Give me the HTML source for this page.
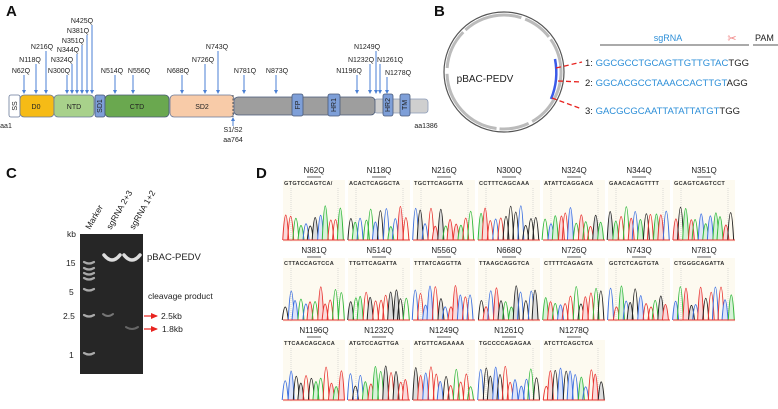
<!DOCTYPE html>
<html><head><meta charset="utf-8"><style>
body{margin:0;background:#fff;width:778px;height:404px;overflow:hidden;font-family:"Liberation Sans",Arial,sans-serif}
</style></head><body>
<svg id="s" width="778" height="404" viewBox="0 0 778 404" xmlns="http://www.w3.org/2000/svg" font-family="Liberation Sans, Arial, sans-serif">
<defs>
<marker id="ar" markerWidth="7" markerHeight="6" refX="6" refY="3" orient="auto" markerUnits="userSpaceOnUse"><path d="M0,0 L7,3 L0,6 z" fill="#e8231f"/></marker></defs>
<g font-weight="bold" font-size="15" fill="#111"><text x="6" y="16">A</text><text x="434" y="16">B</text><text x="6" y="178">C</text><text x="256" y="178">D</text></g>
<rect x="374" y="99" width="54" height="14" rx="3" fill="#cfcfcf" stroke="#8a9ab8" stroke-width="0.8"/>
<rect x="234" y="97" width="141" height="18" rx="4" fill="#9e9e9e" stroke="#4a5a78" stroke-width="0.8"/>
<rect x="9" y="95" width="11" height="22" rx="2" fill="#fff" stroke="#6a7a9a" stroke-width="0.8"/>
<rect x="20" y="95" width="34" height="22" rx="4" fill="#f6bb16" stroke="#6a7a9a" stroke-width="0.8"/>
<rect x="54" y="95" width="40" height="22" rx="4" fill="#a8d18b" stroke="#6a7a9a" stroke-width="0.8"/>
<rect x="95" y="95" width="10" height="22" rx="2" fill="#7e9fd8" stroke="#4a5a78" stroke-width="0.8"/>
<rect x="105" y="95" width="64" height="22" rx="4" fill="#6aa84f" stroke="#4a5a78" stroke-width="0.8"/>
<rect x="170" y="95" width="64" height="22" rx="4" fill="#f8cba8" stroke="#6a7a9a" stroke-width="0.8"/>
<line x1="233" y1="95" x2="233" y2="117" stroke="#555" stroke-dasharray="2,1.5"/>
<g fill="#7e9fd8" stroke="#4a5a78" stroke-width="0.8"><rect x="292" y="94" width="11" height="22" rx="2"/><rect x="328" y="94" width="12" height="22" rx="2"/><rect x="383" y="94" width="10" height="22" rx="2"/><rect x="400" y="94" width="10" height="22" rx="2"/></g>
<g font-size="7" fill="#222" text-anchor="middle">
<text x="36" y="109">D0</text><text x="74" y="109">NTD</text><text x="137" y="109">CTD</text><text x="202" y="109">SD2</text>
<text transform="translate(17,106) rotate(-90)">SS</text>
<text transform="translate(102,106) rotate(-90)">SD1</text>
<text transform="translate(300,105) rotate(-90)">FP</text>
<text transform="translate(336,105) rotate(-90)">HR1</text>
<text transform="translate(390,105) rotate(-90)">HR2</text>
<text transform="translate(407,105) rotate(-90)">TM</text>
<text x="6" y="128">aa1</text><text x="426" y="128">aa1386</text>
<text x="233" y="132">S1/S2</text><text x="233" y="142">aa764</text>
</g>
<line x1="233" y1="126" x2="233" y2="118" stroke="#4a7fd4" stroke-width="1"/><path d="M231,121 L233,117 L235,121z" fill="#4a7fd4"/>
<g id="arrs" font-size="7" fill="#222" text-anchor="middle"></g>
<circle cx="504" cy="72" r="60" fill="none" stroke="#555" stroke-width="1.2"/>
<circle cx="504" cy="72" r="57" fill="none" stroke="#bbb" stroke-width="3" stroke-dasharray="60,4,30,3,80,6,40,3"/>
<path d="M555,59 Q559,80 551,99" fill="none" stroke="#3a5ae8" stroke-width="2.5"/>
<text x="485" y="82" font-size="10" text-anchor="middle" fill="#222">pBAC-PEDV</text>
<g stroke="#e8231f" stroke-width="1.3" stroke-dasharray="5,3" fill="none"><line x1="556" y1="68" x2="582" y2="62"/><line x1="558" y1="81" x2="582" y2="82"/><line x1="552" y1="98" x2="582" y2="109"/></g>
<line x1="600" y1="45" x2="749" y2="45" stroke="#555" stroke-width="1"/><line x1="753" y1="45" x2="778" y2="45" stroke="#555" stroke-width="1"/>
<text x="668" y="41" font-size="9" fill="#2d8fd8" text-anchor="middle">sgRNA</text><text x="755" y="41" font-size="9" fill="#222">PAM</text>
<text x="732" y="42" font-size="11" fill="#f08080" text-anchor="middle">✂</text>
<g font-size="9.5" fill="#2d8fd8"><text x="585" y="66"><tspan fill="#222">1: </tspan>GGCGCCTGCAGTTGTTGTAC<tspan fill="#222">TGG</tspan></text>
<text x="585" y="86"><tspan fill="#222">2: </tspan>GGCACGCCTAAACCACTTGT<tspan fill="#222">AGG</tspan></text>
<text x="585" y="114"><tspan fill="#222">3: </tspan> GACGCGCAATTATATTATGT<tspan fill="#222">TGG</tspan></text></g>
<rect x="80" y="234" width="63" height="140" fill="#262626"/>
<g fill="none" stroke-linecap="round">
<path d="M104,255 Q112,265 120,255" stroke="#ddd" stroke-width="3.5"/><path d="M124,255 Q132,265 140,255" stroke="#ddd" stroke-width="3.5"/>
<g stroke="#aaa" stroke-width="2.2"><path d="M84,262 Q89,265 94,262"/><path d="M84,268 Q89,271 94,268"/><path d="M84,273 Q89,276 94,273"/><path d="M84,278 Q89,281 94,278"/><path d="M84,289 Q89,292 94,289"/><path d="M84,315 Q89,318 94,315"/><path d="M84,353 Q89,356 94,353"/></g>
<path d="M103,314 Q108,318 113,314" stroke="#777" stroke-width="2"/><path d="M126,327 Q132,331 138,327" stroke="#666" stroke-width="2"/>
</g>
<g font-size="8.5" fill="#222"><text x="67" y="237">kb</text><text x="66" y="266">15</text><text x="69" y="295">5</text><text x="63" y="319">2.5</text><text x="69" y="358">1</text>
<text x="147" y="260" font-size="9.5">pBAC-PEDV</text><text x="148" y="299">cleavage product</text><text x="161" y="319">2.5kb</text><text x="162" y="332">1.8kb</text>
<text transform="translate(90,230) rotate(-60)">Marker</text><text transform="translate(111,230) rotate(-60)">sgRNA 2+3</text><text transform="translate(134,230) rotate(-60)">sgRNA 1+2</text></g>
<line x1="144" y1="316" x2="157" y2="316" stroke="#e8231f" stroke-width="1.2" marker-end="url(#ar)"/>
<line x1="144" y1="329" x2="157" y2="329" stroke="#e8231f" stroke-width="1.2" marker-end="url(#ar)"/>
<g id="chrom"></g>
</svg>
<script>
var NS="http://www.w3.org/2000/svg";
function el(p,t,a,txt){var e=document.createElementNS(NS,t);for(var k in a)e.setAttribute(k,a[k]);if(txt)e.textContent=txt;p.appendChild(e);return e;}
var A=[["N62Q",21,73,24],["N118Q",30,62,36],["N216Q",42,49,46],["N300Q",59,73,67],["N324Q",62,62,72],["N344Q",68,52,77],["N351Q",73,43,82],["N381Q",78,33,87],["N425Q",82,23,92],["N514Q",112,73,115],["N556Q",139,73,133],["N688Q",178,73,182],["N726Q",203,62,205],["N743Q",217,49,218],["N781Q",245,73,244],["N873Q",277,73,276],["N1196Q",349,73,357],["N1232Q",361,62,370],["N1249Q",367,49,376],["N1261Q",390,62,380],["N1278Q",398,75,387]];
var g=document.getElementById('arrs');
A.forEach(function(a){el(g,'text',{x:a[1],y:a[2]},a[0]);el(g,'line',{x1:a[3],y1:a[2]+2,x2:a[3],y2:93,stroke:'#4a7fd4','stroke-width':1});el(g,'path',{d:'M'+(a[3]-2)+',90 L'+a[3]+',94 L'+(a[3]+2)+',90z',fill:'#4a7fd4'});});
var D=[["N62Q","GTGTCCAGTCA/"],["N118Q","ACACTCAGGCTA"],["N216Q","TGCTTCAGGTTA"],["N300Q","CCTTTCAGCAAA"],["N324Q","ATATTCAGGACA"],["N344Q","GAACACAGTTTT"],["N351Q","GCAGTCAGTCCT"],
["N381Q","CTTACCAGTCCA"],["N514Q","TTGTTCAGATTA"],["N556Q","TTTATCAGGTTA"],["N668Q","TTAAGCAGGTCA"],["N726Q","CTTTTCAGAGTA"],["N743Q","GCTCTCAGTGTA"],["N781Q","CTGGGCAGATTA"],
["N1196Q","TTCAACAGCACA"],["N1232Q","ATGTCCAGTTGA"],["N1249Q","ATGTTCAGAAAA"],["N1261Q","TGCCCCAGAGAA"],["N1278Q","ATCTTCAGCTCA"]];
var cg=document.getElementById('chrom'),cols=['#e8332f','#2fb83a','#3a6ee0','#222'],fills=['#fadada','#d8f2d8','#dde4fa','#ddd'];
var seed=7;function r(){seed=(seed*9301+49297)%233280;return seed/233280;}
var rows=[[173,180,242],[253,258,322],[333,340,402]];
D.forEach(function(d,i){var row=Math.floor(i/7),c=i%7,x=283+c*65,R=rows[row];
el(cg,'rect',{x:x,y:R[1],width:62,height:R[2]-R[1],fill:'#fdfaf0'});
el(cg,'text',{x:x+31,y:R[0],'font-size':8,'text-anchor':'middle',fill:'#222'},d[0]);
el(cg,'line',{x1:x+24,y1:R[0]+4,x2:x+38,y2:R[0]+4,stroke:'#333','stroke-width':0.8});
el(cg,'text',{x:x+1,y:R[0]+12,'font-size':5.6,'font-weight':'bold','letter-spacing':'0.3',fill:'#333'},d[1]);
el(cg,'line',{x1:x+8,y1:R[0]+15,x2:x+8,y2:R[2],stroke:'#bbb','stroke-width':0.5,'stroke-dasharray':'1,1'});
el(cg,'line',{x1:x+55,y1:R[0]+15,x2:x+55,y2:R[2],stroke:'#bbb','stroke-width':0.5,'stroke-dasharray':'1,1'});
var base=R[2]-2,top=R[0]+24;
for(var k=0;k<12;k++){var cx=x+2+k*5+r()*1.5,h=(base-top)*(0.3+0.5*r()),ci=Math.floor(r()*4);
el(cg,'path',{d:'M'+(cx-3)+','+base+' Q'+cx+','+(base-2*h)+' '+(cx+3)+','+base,fill:r()<0.4?fills[ci]:'none',stroke:cols[ci],'stroke-width':1});}
el(cg,'line',{x1:x,y1:base,x2:x+62,y2:base,stroke:'#e8332f','stroke-width':1});
});
</script>
</body></html>
